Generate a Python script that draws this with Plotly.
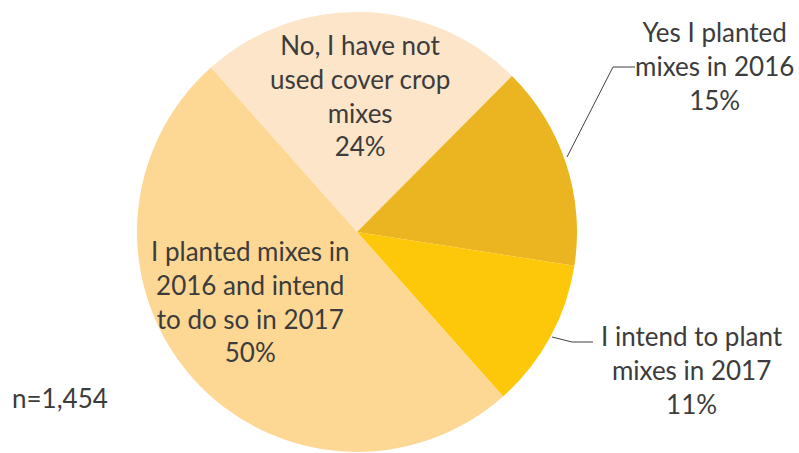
import plotly.graph_objects as go

W, H = 799, 453

categories = ["No, I have not used cover crop mixes",
              "Yes I planted mixes in 2016",
              "I intend to plant mixes in 2017",
              "I planted mixes in 2016 and intend to do so in 2017"]
values = [24, 15, 11, 50]
label_lines = [["No, I have not", "used cover crop", "mixes"],
               ["Yes I planted", "mixes in 2016"],
               ["I intend to plant", "mixes in 2017"],
               ["I planted mixes in", "2016 and intend", "to do so in 2017"]]
colors = ["#FCE5C8", "#EBB521", "#FEC80A", "#FDD794"]
n_text = "n=1,454"

# pixel geometry of the pie
cx, cy, r = 357, 232, 220

def px(x):
    return x / W

def py(y):
    return 1 - y / H

fig = go.Figure(go.Pie(
    labels=categories, values=values, sort=False, direction="clockwise",
    rotation=-41.6, marker=dict(colors=colors, line=dict(width=0)),
    textinfo="none", hoverinfo="label+percent", showlegend=False,
    domain=dict(x=[px(cx - r), px(cx + r)], y=[py(cy + r), py(cy - r)]),
))

# label centres (pixels)
label_pos = [(360, 96), (714, 66), (692, 370), (250, 301)]
font = dict(family="Lato, Carlito, sans-serif", size=26, color="#3C3C3C")
for lines, v, (x, y) in zip(label_lines, values, label_pos):
    fig.add_annotation(x=px(x), y=py(y), xref="paper", yref="paper",
                       text="<br>".join(lines + [f"{v}%"]), showarrow=False,
                       font=font, align="center", xanchor="center", yanchor="middle")

fig.add_annotation(x=px(10), y=py(398), xref="paper", yref="paper", text=n_text,
                   showarrow=False, font=font, xanchor="left", yanchor="middle")

# leader lines
leaders = [[(567, 157), (613, 67), (635, 67)],
           [(552, 337), (572, 342), (593, 342)]]
for pts in leaders:
    path = "M " + " L ".join(f"{px(x)},{py(y)}" for x, y in pts)
    fig.add_shape(type="path", path=path, xref="paper", yref="paper",
                  line=dict(color="#404040", width=1))

fig.update_layout(width=W, height=H, margin=dict(l=0, r=0, t=0, b=0),
                  paper_bgcolor="white", plot_bgcolor="white")
fig.write_html("out.html", config={"displayModeBar": False},
               post_script="document.body.style.margin='0';document.body.style.overflow='hidden';")
